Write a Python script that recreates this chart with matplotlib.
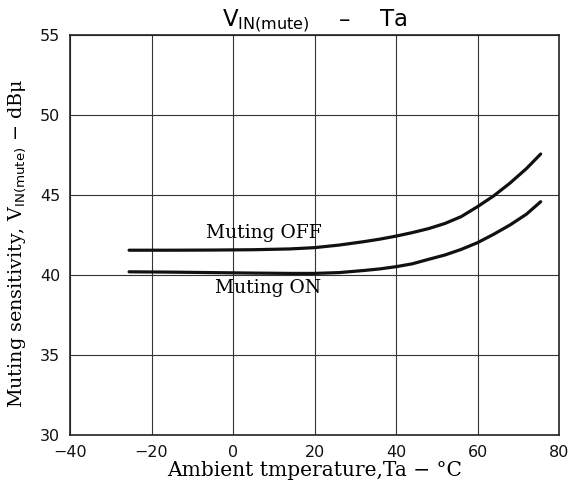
import matplotlib
matplotlib.use("Agg")
import matplotlib.pyplot as plt

# Ambient temperature (deg C) and muting sensitivity (dBu)
temp = [-25.5, -15, -5, 5, 14, 20, 26, 32, 36, 40, 44, 48, 52, 56, 60, 64, 68, 72, 75.5]
muting_off = [41.55, 41.55, 41.56, 41.58, 41.63, 41.71, 41.87, 42.08, 42.24, 42.43,
              42.65, 42.9, 43.22, 43.65, 44.27, 44.95, 45.75, 46.65, 47.56]
muting_on = [40.2, 40.18, 40.15, 40.12, 40.1, 40.1, 40.15, 40.28, 40.38, 40.52,
             40.7, 40.98, 41.25, 41.6, 42.02, 42.55, 43.13, 43.8, 44.58]

x_ticks = [-40, -20, 0, 20, 40, 60, 80]
x_labels = ["\u221240", "\u221220", "0", "20", "40", "60", "80"]
y_ticks = [30, 35, 40, 45, 50, 55]

serif = "DejaVu Serif"

fig = plt.figure(figsize=(5.71, 4.90), dpi=100)
ax = fig.add_axes([0.1226, 0.1122, 0.8564, 0.8164])

ax.plot(temp, muting_off, color="#111111", linewidth=2.3, solid_capstyle="round")
ax.plot(temp, muting_on, color="#111111", linewidth=2.3, solid_capstyle="round")

ax.set_xlim(-40, 80)
ax.set_ylim(30, 55)
ax.set_xticks(x_ticks)
ax.set_xticklabels(x_labels)
ax.set_yticks(y_ticks)
ax.tick_params(length=0, labelsize=11.5, colors="#111111")
ax.tick_params(axis="x", pad=7)
ax.tick_params(axis="y", pad=7)
ax.grid(True, color="#333333", linewidth=0.8)
for spine in ax.spines.values():
    spine.set_linewidth(1.2)
    spine.set_edgecolor("#222222")

ax.text(7.5, 42.6, "Muting OFF", family=serif, fontsize=13.5, ha="center", va="center")
ax.text(8.5, 39.2, "Muting ON", family=serif, fontsize=13.5, ha="center", va="center")

ax.set_title("V$_{\\mathsf{IN(mute)}}$    \u2013    Ta", fontsize=16.5, pad=3)
ax.set_xlabel("Ambient tmperature,Ta \u2212 \u00b0C", family=serif, fontsize=14.5, labelpad=1)
ax.set_ylabel("Muting sensitivity, V$_{\\mathrm{IN(mute)}}$ \u2212 dB\u03bc",
              family=serif, fontsize=13.8)
ax.yaxis.set_label_coords(-0.086, 0.48)

fig.savefig("out.png", dpi=100)
